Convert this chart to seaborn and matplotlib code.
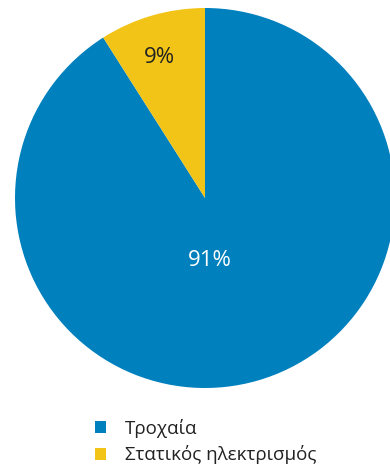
import matplotlib
matplotlib.use("Agg")
import matplotlib.pyplot as plt
import seaborn as sns
from matplotlib.patches import Patch

sns.set_theme(style="white")
plt.rcParams['font.family'] = ['Open Sans', 'DejaVu Sans']

categories = ["Τροχαία", "Στατικός ηλεκτρισμός"]
values = [91, 9]
colors = ["#0080BD", "#F2C418"]
pct_labels = ["91%", "9%"]
label_colors = ["white", "#222222"]

fig = plt.figure(figsize=(3.9, 4.7), dpi=100)
ax = fig.add_axes([15/390, (272-190)/470, 380/390, 380/470])
wedges, _ = ax.pie(values, colors=colors, startangle=90, counterclock=False,
                   radius=1.0, wedgeprops=dict(linewidth=0))
ax.set_xlim(-1, 1)
ax.set_ylim(-1, 1)
ax.set_aspect("equal")
ax.axis("off")

label_pos = [(0.025, -0.33), (-0.24, 0.74)]
for txt, pos, c in zip(pct_labels, label_pos, label_colors):
    ax.text(pos[0], pos[1], txt, ha="center", va="center", fontsize=16, color=c)

handles = [Patch(facecolor=c, edgecolor="none") for c in colors]
leg = fig.legend(handles, categories, loc="upper left", bbox_to_anchor=(95/390, 1 - 419/470),
                 frameon=False, fontsize=13.5, handlelength=0.6, handleheight=0.6,
                 handletextpad=1.0, labelspacing=0.4, borderaxespad=0, borderpad=0)
for t in leg.get_texts():
    t.set_color("#222222")

fig.savefig("out.png", dpi=100)
